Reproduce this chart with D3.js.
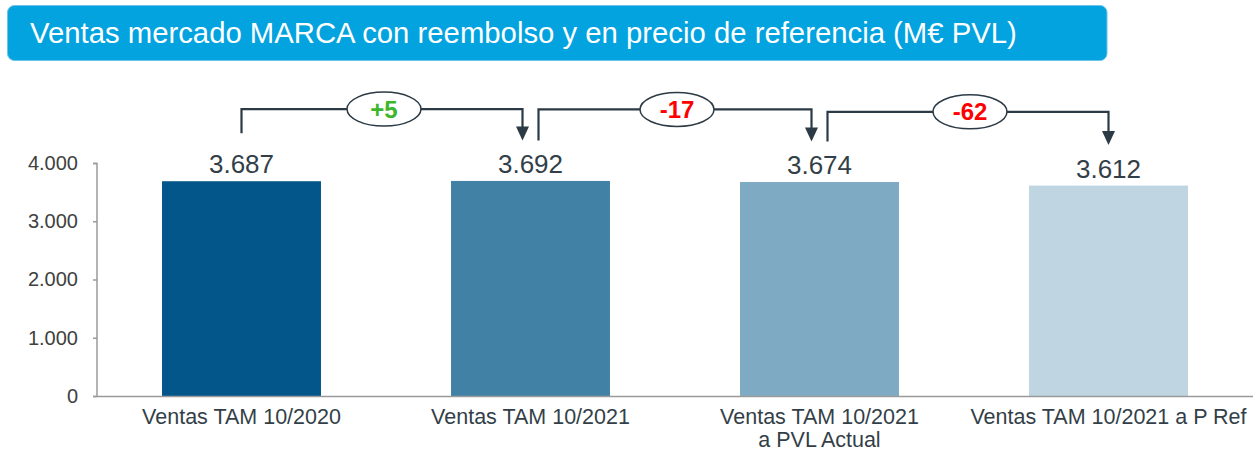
<!DOCTYPE html>
<html><head><meta charset="utf-8">
<script src="https://cdn.jsdelivr.net/npm/d3@7"></script>
<style>
html,body{margin:0;padding:0;background:#fff;}
svg{display:block;font-family:"Liberation Sans",Arial,sans-serif;}
</style></head>
<body>
<svg id="chart" width="1253" height="452"></svg>
<script>
const title = "Ventas mercado MARCA con reembolso y en precio de referencia (M€ PVL)";
const categories = ["Ventas TAM 10/2020", "Ventas TAM 10/2021", "Ventas TAM 10/2021\na PVL Actual", "Ventas TAM 10/2021 a P Ref"];
const values = [3687, 3692, 3674, 3612];
const deltaLabels = ["+5", "-17", "-62"];
const yTicks = [0, 1000, 2000, 3000, 4000];
const barColors = ["#02568a", "#4281a6", "#7faac4", "#bfd5e2"];

const svg = d3.select("#chart");
const loc = d3.formatLocale({decimal: ",", thousands: ".", grouping: [3], currency: ["", "€"]});
const fmt = loc.format(",d");

// Title banner
svg.append("rect").attr("x", 7.5).attr("y", 5.5).attr("width", 1099.5).attr("height", 55)
  .attr("rx", 7).attr("fill", "#02a3df").attr("stroke", "#6cc4ea").attr("stroke-width", 1);
svg.append("text").attr("x", 30).attr("y", 43).attr("fill", "#fff")
  .attr("font-size", 29.3).text(title);

const x = d3.scaleBand().domain(categories).range([97, 1253]).paddingInner(0.45).paddingOuter(0.225);
const y = d3.scaleLinear().domain([0, 4000]).range([396, 163]);

// Y axis
const yAxis = svg.append("g").attr("transform", "translate(97,0)")
  .call(d3.axisLeft(y).tickValues(yTicks).tickSize(4).tickPadding(15).tickFormat(fmt));
yAxis.select(".domain").attr("stroke", "#9a9a9a").attr("stroke-width", 1.5).attr("d", "M-4,163.5H0V396");
yAxis.selectAll(".tick line").attr("stroke", "#9a9a9a").attr("stroke-width", 1.5);
yAxis.selectAll(".tick text").attr("font-size", 20).attr("fill", "#404040").attr("font-family", "Liberation Sans, Arial, sans-serif");

// Bars
svg.selectAll("rect.bar").data(values).join("rect").attr("class", "bar")
  .attr("x", (d, i) => x(categories[i])).attr("width", x.bandwidth())
  .attr("y", d => y(d)).attr("height", d => y(0) - y(d))
  .attr("fill", (d, i) => barColors[i]);

// X axis line
svg.append("line").attr("x1", 93).attr("x2", 1253).attr("y1", 396.5).attr("y2", 396.5)
  .attr("stroke", "#9a9a9a").attr("stroke-width", 1.5);

// X labels
categories.forEach((c, i) => {
  const t = svg.append("text").attr("x", x(c) + x.bandwidth() / 2).attr("y", 424)
    .attr("text-anchor", "middle").attr("font-size", 21.5).attr("fill", "#333f48");
  c.split("\n").forEach((line, j) => {
    t.append("tspan").attr("x", x(c) + x.bandwidth() / 2).attr("dy", j === 0 ? 0 : 23).text(line);
  });
});

// Value labels
svg.selectAll("text.val").data(values).join("text").attr("class", "val")
  .attr("x", (d, i) => x(categories[i]) + x.bandwidth() / 2)
  .attr("y", d => y(d) - 8)
  .attr("text-anchor", "middle").attr("font-size", 26).attr("fill", "#333f48")
  .text(d => fmt(d));

// Connectors
const cx = i => x(categories[i]) + x.bandwidth() / 2;
const lineColor = "#2c3a45";
deltaLabels.forEach((lab, i) => {
  const last = i === deltaLabels.length - 1;
  const x0 = cx(i) + (i === 0 ? 0 : 8);
  const x1 = cx(i + 1) + (last ? 0 : -8);
  const y0 = y(values[i]) - (i === 0 ? 48 : 40.5);
  const tip = y(values[i + 1]) - 40.5;
  const yh = (y(values[i]) + y(values[i + 1])) / 2 - 72;
  svg.append("path").attr("d", `M${x0},${y0}V${yh}H${x1}V${tip - 12}`)
    .attr("fill", "none").attr("stroke", lineColor).attr("stroke-width", 2.2);
  svg.append("path").attr("d", `M${x1 - 6.5},${tip - 14}L${x1 + 6.5},${tip - 14}L${x1},${tip}Z`)
    .attr("fill", lineColor);
  const mx = (x0 + x1) / 2 + 2;
  svg.append("ellipse").attr("cx", mx).attr("cy", yh).attr("rx", 37).attr("ry", 17)
    .attr("fill", "#fff").attr("stroke", lineColor).attr("stroke-width", 1.5);
  svg.append("text").attr("x", mx).attr("y", yh + 8.5).attr("text-anchor", "middle")
    .attr("font-size", 24).attr("font-weight", "bold")
    .attr("fill", lab.startsWith("+") ? "#3db62b" : "#ff0000").text(lab);
});
</script>
</body></html>
